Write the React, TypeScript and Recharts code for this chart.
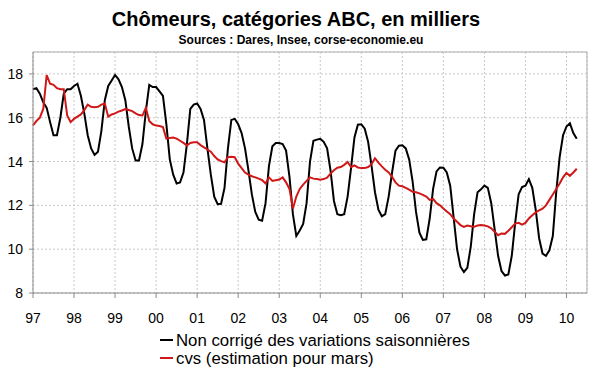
import { LineChart, Line, XAxis, YAxis, CartesianGrid, ReferenceLine } from "recharts";

// monthly values, Jan 1997 -> Apr 2010 (thousands)
const brut = [
  17.3, 17.35, 17.1, 16.7, 16.45, 15.8, 15.2, 15.2, 16.0, 17.1, 17.3, 17.3,
  17.45, 17.55, 17.0, 16.2, 15.2, 14.6, 14.3, 14.45, 15.4, 16.8, 17.45, 17.7,
  17.95, 17.75, 17.4, 16.8, 15.6, 14.6, 14.05, 14.05, 14.8, 16.3, 17.5, 17.4,
  17.4, 17.2, 17.0, 15.7, 14.1, 13.4, 13.0, 13.05, 13.5, 14.8, 16.4, 16.6,
  16.65, 16.4, 15.9, 14.6, 13.4, 12.4, 12.05, 12.07, 12.8, 14.6, 15.9, 15.95,
  15.7, 15.3, 14.6, 13.6, 12.5, 11.7, 11.35, 11.3, 12.1, 13.8, 14.7, 14.85,
  14.85, 14.8, 14.5, 13.3, 11.6, 10.6, 10.85, 11.15, 12.1, 14.0, 14.95, 15.0,
  15.04, 14.9, 14.6, 13.6, 12.2, 11.6, 11.55, 11.6, 12.4, 13.7, 15.1, 15.68,
  15.7, 15.5, 14.9, 13.8, 12.6, 11.8, 11.5, 11.6, 12.4, 13.5, 14.5, 14.72,
  14.74, 14.6, 14.1, 13.1, 11.7, 10.75, 10.42, 10.45, 11.4, 12.75, 13.55, 13.73,
  13.72, 13.5, 12.9, 11.45, 10.0, 9.2, 8.96, 9.15, 10.1, 11.6, 12.6, 12.73,
  12.9, 12.8, 12.1, 10.9, 9.7, 9.0, 8.8, 8.85, 9.7, 11.2, 12.5, 12.84,
  12.9, 13.2, 12.8, 11.8, 10.5, 9.8, 9.7, 9.95, 10.6, 12.6, 14.2, 15.2,
  15.6, 15.75, 15.3, 15.04,
];

const cvs = [
  15.65, 15.85, 16.0, 16.4, 17.95, 17.55, 17.5, 17.35, 17.3, 17.3, 16.1, 15.8,
  15.95, 16.05, 16.15, 16.35, 16.6, 16.5, 16.48, 16.5, 16.6, 16.65, 16.05, 16.15,
  16.2, 16.28, 16.33, 16.4, 16.35, 16.3, 16.2, 16.12, 16.1, 16.45, 15.85, 15.7,
  15.64, 15.62, 15.57, 15.05, 15.08, 15.1, 15.05, 14.95, 14.85, 14.73, 14.85, 14.88,
  14.88, 14.75, 14.65, 14.55, 14.45, 14.25, 14.1, 14.02, 13.97, 14.2, 14.22, 14.2,
  13.9, 13.7, 13.5, 13.4, 13.33, 13.28, 13.22, 13.15, 13.0, 13.28, 13.12, 13.15,
  13.18, 13.28, 13.05, 12.75, 11.85, 12.4, 12.75, 12.95, 13.12, 13.28, 13.22, 13.2,
  13.17, 13.2, 13.26, 13.45, 13.6, 13.72, 13.75, 13.85, 13.98, 13.75, 13.82, 13.73,
  13.7, 13.7, 13.75, 13.88, 14.15, 13.95, 13.78, 13.63, 13.5, 13.3, 13.05, 12.9,
  12.87, 12.8, 12.72, 12.62, 12.6, 12.55, 12.48, 12.4, 12.25, 12.3, 12.1, 12.0,
  11.86, 11.72, 11.6, 11.4, 11.25, 11.1, 11.02, 11.08, 11.05, 11.02, 11.08, 11.1,
  11.08, 11.04, 10.95, 10.8, 10.64, 10.72, 10.7, 10.84, 11.0, 11.17, 11.2, 11.12,
  11.2, 11.4, 11.55, 11.68, 11.77, 11.85, 12.0, 12.25, 12.5, 12.75, 13.0, 13.28,
  13.48, 13.35, 13.5, 13.67,
];

const yearLabels = ["97", "98", "99", "00", "01", "02", "03", "04", "05", "06", "07", "08", "09", "10"];
const yTicks = [8, 10, 12, 14, 16, 18];

const data = brut.map((v, i) => ({ m: i, brut: v, cvs: cvs[i] }));
const xTicks = yearLabels.map((_, i) => i * 12);

const FONT = "Arial, 'Liberation Sans', sans-serif";
const AXIS = "#8a8a8a";

export default function App() {
  return (
    <div style={{ position: "relative", width: 600, height: 372, background: "#fff", fontFamily: FONT }}>
      <style>{"body{margin:0}"}</style>
      <div style={{ position: "absolute", top: 8, left: 0, width: 592, textAlign: "center", fontSize: 20, fontWeight: "bold" }}>
        Chômeurs, catégories ABC, en milliers
      </div>
      <div style={{ position: "absolute", top: 33, left: 0, width: 602, textAlign: "center", fontSize: 12, fontWeight: "bold" }}>
        Sources : Dares, Insee, corse-economie.eu
      </div>
      <LineChart width={600} height={372} data={data} margin={{ top: 52, right: 13, bottom: 49, left: 0 }}>
        <CartesianGrid stroke="#c8c8c8" strokeDasharray="2 2" />
        <XAxis
          dataKey="m"
          type="number"
          domain={[0, 162]}
          ticks={xTicks}
          tickFormatter={(v: number) => yearLabels[v / 12]}
          stroke={AXIS}
          tickSize={5}
          tickMargin={15}
          tick={{ fill: "#000", fontSize: 14, fontFamily: FONT }}
          allowDecimals={false}
        />
        <YAxis
          type="number"
          domain={[8, 19]}
          ticks={yTicks}
          width={33}
          stroke={AXIS}
          tickSize={4}
          tickMargin={6}
          tick={{ fill: "#000", fontSize: 14, fontFamily: FONT }}
        />
        <ReferenceLine y={19} stroke="#b0b0b0" />
        <ReferenceLine x={162} stroke="#b0b0b0" />
        <Line dataKey="brut" stroke="#000" strokeWidth={2} dot={false} isAnimationActive={false} />
        <Line dataKey="cvs" stroke="#d01818" strokeWidth={2} dot={false} isAnimationActive={false} />
      </LineChart>
      <div style={{ position: "absolute", top: 331, left: 160, fontSize: 16.8, lineHeight: "17px" }}>
        {[
          { c: "#000", t: "Non corrigé des variations saisonnières" },
          { c: "#d01818", t: "cvs (estimation pour mars)" },
        ].map((r) => (
          <div key={r.t} style={{ display: "flex", alignItems: "center", height: 18 }}>
            <span style={{ display: "inline-block", width: 13, height: 2, background: r.c, marginRight: 3 }} />
            {r.t}
          </div>
        ))}
      </div>
    </div>
  );
}
